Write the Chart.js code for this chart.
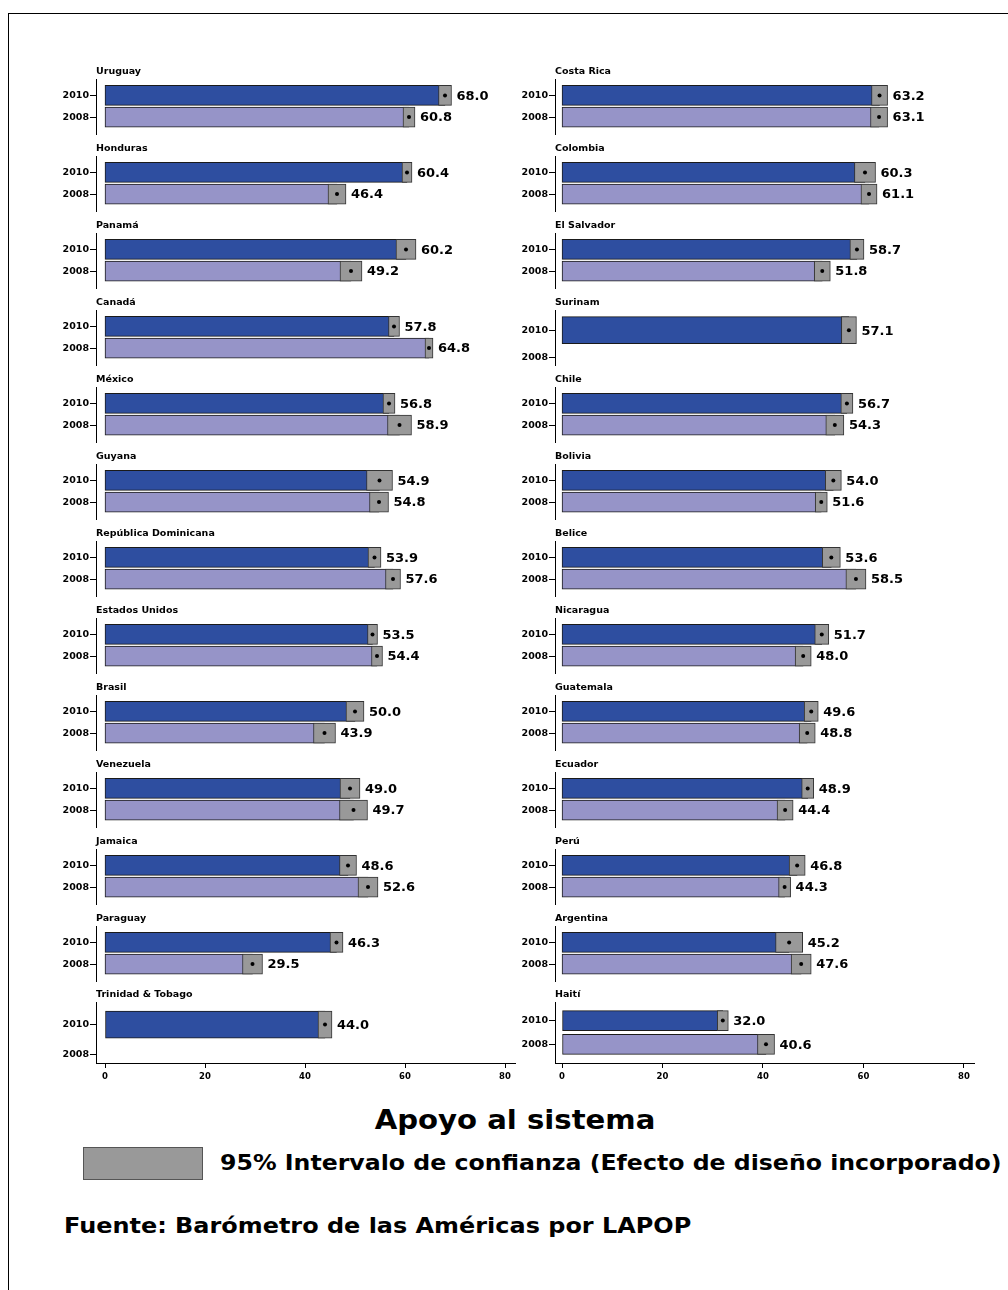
<!DOCTYPE html>
<html>
<head>
<meta charset="utf-8">
<script src="https://cdn.jsdelivr.net/npm/chart.js@4.4.0/dist/chart.umd.min.js"></script>
<style>
  body { margin: 0; background: #fff; font-family: 'DejaVu Sans', sans-serif; }
  #page { position: relative; width: 1008px; height: 1290px; overflow: hidden; }
  #frame { position: absolute; left: 8px; top: 13px; width: 1000px; height: 1277px; border-left: 1px solid #000; border-top: 1px solid #000; }
  .txt { position: absolute; font-weight: bold; color: #000; white-space: nowrap; transform-origin: left center; }
</style>
</head>
<body>
<div id="page">
  <div id="frame"></div>
  <div class="txt" style="left:215px;width:600px;text-align:center;top:1104px;font-size:26px;line-height:32px;transform-origin:center;transform:scaleX(1.12)">Apoyo al sistema</div>
  <div style="position:absolute;left:83px;top:1147px;width:118px;height:31px;background:#999;border:1px solid #555"></div>
  <div class="txt" style="left:220px;top:1150px;font-size:21px;line-height:26px;transform:scaleX(1.125)">95% Intervalo de confianza (Efecto de diseño incorporado)</div>
  <div class="txt" style="left:64px;top:1213px;font-size:21px;line-height:26px;transform:scaleX(1.14)">Fuente: Barómetro de las Américas por LAPOP</div>
</div>
<script>
// years on each small y axis, and the shared x ticks
const years = ['2010', '2008']
const xTicks = [0, 20, 40, 60, 80]

// left column
const leftCountries = ['Uruguay', 'Honduras', 'Panamá', 'Canadá', 'México', 'Guyana', 'República Dominicana',
  'Estados Unidos', 'Brasil', 'Venezuela', 'Jamaica', 'Paraguay', 'Trinidad & Tobago']
const left2010 = [68.0, 60.4, 60.2, 57.8, 56.8, 54.9, 53.9, 53.5, 50.0, 49.0, 48.6, 46.3, 44.0]
const left2010Low = [66.7, 59.4, 58.2, 56.7, 55.6, 52.3, 52.6, 52.5, 48.2, 47.0, 46.9, 45.0, 42.6]
const left2010High = [69.3, 61.4, 62.2, 58.9, 58.0, 57.5, 55.2, 54.5, 51.8, 51.0, 50.3, 47.6, 45.4]
const left2008 = [60.8, 46.4, 49.2, 64.8, 58.9, 54.8, 57.6, 54.4, 43.9, 49.7, 52.6, 29.5, null]
const left2008Low = [59.6, 44.6, 47.0, 64.0, 56.5, 52.9, 56.1, 53.3, 41.7, 46.9, 50.6, 27.5, null]
const left2008High = [62.0, 48.2, 51.4, 65.6, 61.3, 56.7, 59.1, 55.5, 46.1, 52.5, 54.6, 31.5, null]

// right column
const rightCountries = ['Costa Rica', 'Colombia', 'El Salvador', 'Surinam', 'Chile', 'Bolivia', 'Belice',
  'Nicaragua', 'Guatemala', 'Ecuador', 'Perú', 'Argentina', 'Haití']
const right2010 = [63.2, 60.3, 58.7, 57.1, 56.7, 54.0, 53.6, 51.7, 49.6, 48.9, 46.8, 45.2, 32.0]
const right2010Low = [61.6, 58.2, 57.3, 55.6, 55.5, 52.4, 51.8, 50.3, 48.2, 47.7, 45.2, 42.5, 30.9]
const right2010High = [64.8, 62.4, 60.1, 58.6, 57.9, 55.6, 55.4, 53.1, 51.0, 50.1, 48.4, 47.9, 33.1]
const right2008 = [63.1, 61.1, 51.8, null, 54.3, 51.6, 58.5, 48.0, 48.8, 44.4, 44.3, 47.6, 40.6]
const right2008Low = [61.4, 59.5, 50.2, null, 52.5, 50.4, 56.5, 46.4, 47.2, 42.8, 43.1, 45.6, 38.9]
const right2008High = [64.8, 62.7, 53.4, null, 56.1, 52.8, 60.5, 49.6, 50.4, 46.0, 45.5, 49.6, 42.3]

const darkBlue = '#2E4EA0'
const lightBlue = '#9694C8'
const ciGray = '#999999'

Chart.defaults.font.family = "'DejaVu Sans', sans-serif"
Chart.defaults.color = '#000'

const panels = [
  { countries: leftCountries, v10: left2010, lo10: left2010Low, hi10: left2010High,
    v08: left2008, lo08: left2008Low, hi08: left2008High, left: 50, xMin: -1.8 },
  { countries: rightCountries, v10: right2010, lo10: right2010Low, hi10: right2010High,
    v08: right2008, lo08: right2008Low, hi08: right2008High, left: 509, xMin: -1.4 }
]

//writes the mean next to each confidence box
const valueLabels = {
  id: 'valueLabels',
  afterDatasetsDraw(chart) {
    const ctx = chart.ctx
    const { x, y } = chart.scales
    const ci = chart.data.datasets[1].data
    ctx.save()
    ctx.font = "bold 13px 'DejaVu Sans'"
    ctx.fillStyle = '#000'
    ctx.textBaseline = 'middle'
    chart.data.datasets[2].data.forEach((d, k) => {
      ctx.fillText(d.x.toFixed(1), x.getPixelForValue(ci[k].x[1]) + 5, y.getPixelForValue(d.y) + 1)
    })
    ctx.restore()
  }
}

function drawGroup(p, i) {
  const last = i === p.countries.length - 1
  const single = p.v08[i] === null
  const areaTop = last ? 1003 : 80 + 77 * i
  const areaH = last ? 60 : 58
  let c0 = last ? 18 : 17
  let sp = last ? 23.5 : 23
  let thick = 20
  if (single) {
    c0 = last ? 22 : 21
    sp = last ? 30 : 29
    thick = 27
  }

  const canvas = document.createElement('canvas')
  canvas.width = 470
  canvas.height = 14 + areaH + (last ? 30 : 0)
  canvas.style.cssText = `position:absolute;left:${p.left}px;top:${areaTop - 14}px`
  document.getElementById('page').appendChild(canvas)

  const vals = [p.v10[i], p.v08[i]]
  const lows = [p.lo10[i], p.lo08[i]]
  const highs = [p.hi10[i], p.hi08[i]]
  const bars = [], ci = [], dots = []
  vals.forEach((v, k) => {
    if (v === null) return
    bars.push({ x: v, y: k })
    ci.push({ x: [lows[k], highs[k]], y: k })
    dots.push({ x: v, y: k })
  })

  new Chart(canvas, {
    type: 'bar',
    data: {
      datasets: [
        { type: 'scatter', data: dots, pointRadius: 2, pointBackgroundColor: '#000', pointBorderWidth: 0, order: 0 },
        { data: ci, backgroundColor: ciGray, borderColor: '#333', borderWidth: 1, borderSkipped: false,
          barThickness: thick, grouped: false, order: 1 },
        { data: bars, backgroundColor: c => (c.raw && c.raw.y === 0 ? darkBlue : lightBlue),
          borderColor: '#1a1a1a', borderWidth: 1, borderSkipped: false, barThickness: thick, grouped: false, order: 2 }
      ]
    },
    options: {
      indexAxis: 'y',
      responsive: false,
      animation: false,
      layout: { padding: { top: 0, right: 5, bottom: 0, left: 0 } },
      plugins: {
        legend: { display: false },
        tooltip: { enabled: false },
        title: { display: true, text: p.countries[i], align: 'start', fullSize: false,
          font: { size: 9.5, weight: 'bold' }, padding: { top: 0, bottom: 2 } }
      },
      scales: {
        x: {
          type: 'linear', min: p.xMin, max: 82, display: last, offset: false,
          afterBuildTicks: s => { s.ticks = xTicks.map(v => ({ value: v })) },
          afterFit: s => { s.height = last ? 30 : 0; s.paddingLeft = 0; s.paddingRight = 0 },
          grid: { drawOnChartArea: false, tickLength: 5, color: '#000', offset: false },
          border: { color: '#000' },
          ticks: { font: { size: 8.5, weight: 'bold' }, padding: 4, maxRotation: 0 }
        },
        y: {
          type: 'linear', reverse: true, min: -c0 / sp, max: (areaH - c0) / sp, offset: false,
          afterBuildTicks: s => { s.ticks = years.map((t, k) => ({ value: k })) },
          afterFit: s => { s.width = 46; s.paddingTop = 0; s.paddingBottom = 0 },
          grid: { drawOnChartArea: false, tickLength: 6, color: '#000', offset: false },
          border: { color: '#000' },
          ticks: { callback: v => years[v], font: { size: 9.5, weight: 'bold' }, padding: 1 }
        }
      }
    },
    plugins: [valueLabels]
  })
}

panels.forEach(p => p.countries.forEach((c, i) => drawGroup(p, i)))
</script>
</body>
</html>
